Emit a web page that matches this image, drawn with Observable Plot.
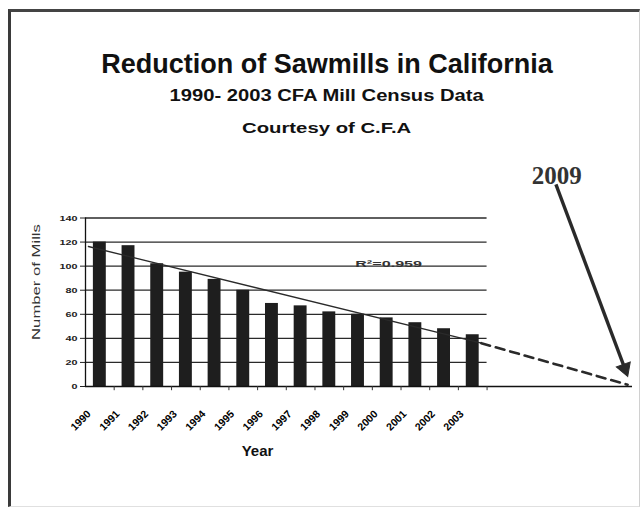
<!DOCTYPE html>
<html>
<head>
<meta charset="utf-8">
<script src="https://cdn.jsdelivr.net/npm/d3@7"></script>
<script src="https://cdn.jsdelivr.net/npm/@observablehq/plot@0.6"></script>
<style>
  html, body { margin: 0; padding: 0; background: #fff; overflow: hidden; }
  #page { position: relative; width: 642px; height: 508px; font-family: "Liberation Sans", Arial, sans-serif; }
  #frame { position: absolute; left: 8px; top: 9px; width: 628px; height: 494px;
           border-left: 3px solid #3a3a3a; border-top: 3px solid #444;
           border-right: 1px solid #d0d0d0; border-bottom: 1px solid #e0e0e0; }
  .line { position: absolute; left: 0; width: 654px; text-align: center; font-weight: bold; color: #111; white-space: nowrap; }
  .line span { display: inline-block; transform-origin: 50% 50%; }
  #ylabel { position: absolute; left: 36px; top: 282px; white-space: nowrap; font-size: 11.5px; color: #333;
            transform: translate(-50%, -50%) rotate(-90deg) scaleX(1.45); }
  #chart { position: absolute; left: 0; top: 150px; }
</style>
</head>
<body>
<div id="page">
  <div id="frame"></div>
  <div class="line" id="title" style="font-size:27px; line-height:27px; top:51px;"><span>Reduction of Sawmills in California</span></div>
  <div class="line" id="sub" style="font-size:16px; line-height:16px; top:88px;"><span style="transform:scaleX(1.26)">1990- 2003 CFA Mill Census Data</span></div>
  <div class="line" id="court" style="font-size:15.5px; line-height:15.5px; top:120px;"><span style="transform:scaleX(1.31)">Courtesy of C.F.A</span></div>
  <div id="ylabel">Number of Mills</div>
  <div class="line" id="xlabel" style="font-size:15px; line-height:15px; top:443px; width:515px;"><span>Year</span></div>
  <div id="chart"></div>
</div>
<script>
// ---- data ----
const years = [1990, 1991, 1992, 1993, 1994, 1995, 1996, 1997, 1998, 1999, 2000, 2001, 2002, 2003];
const mills = [120, 117, 102, 95, 89, 80, 69, 67, 62, 60, 57, 53, 48, 43];
const yTicks = [0, 20, 40, 60, 80, 100, 120, 140];
const yearLabels = years.map(String);
const r2Label = "R\u00B2=0.959";
const r2Year = 1998.9;           // where the R² note sits
const r2Value = 100;
const forecastEndYear = 2008.4;  // dashed projection reaches zero
const arrowYears = [2005.9, 2008.3];
const arrowMills = [168, 15];
const noteLabel = "2009";
const noteYear = 2005.93;
const noteValue = 168;

const data = years.map((y, i) => ({year: y, mills: mills[i], label: yearLabels[i]}));

// least-squares trend of the census counts
const xm = d3.mean(years), ym = d3.mean(mills);
const slope = d3.sum(years, (x, i) => (x - xm) * (mills[i] - ym)) / d3.sum(years, x => (x - xm) ** 2);
const fit = x => ym + slope * (x - xm);
const trendYears = [1989.6, 2003.3];
const trend = trendYears.map(x => ({year: x, mills: fit(x)}));
const forecast = [{year: 2003.3, mills: fit(2003.3)}, {year: forecastEndYear, mills: 1.5}];
const arrow = [{x1: arrowYears[0], y1: arrowMills[0], x2: arrowYears[1], y2: arrowMills[1]}];

const chart = Plot.plot({
  width: 642,
  height: 320,
  marginTop: 67.5,
  marginBottom: 84,
  marginLeft: 85,
  marginRight: 10,
  style: {fontFamily: "Liberation Sans, Arial, sans-serif", fontSize: "8px", fontWeight: "bold", background: "transparent", color: "#222", overflow: "visible"},
  x: {domain: [1989.5, 2008.57], axis: null},
  y: {domain: [0, 140], ticks: yTicks, tickSize: 5, tickPadding: 3, label: null},
  marks: [
    Plot.ruleY(yTicks.filter(v => v > 0), {x1: 1989.5, x2: 2003.5, stroke: "#2a2a2a", strokeWidth: 1.3}),
    Plot.rectY(data, {x1: d => d.year - 0.225, x2: d => d.year + 0.225, y: "mills", fill: "#1e1e1e"}),
    Plot.ruleY([0], {x1: 1989.5, x2: 2008.57, stroke: "#111", strokeWidth: 1.6}),
    Plot.ruleX([1989.5], {y1: 0, y2: 140, stroke: "#111", strokeWidth: 1.3}),
    Plot.ruleX(d3.range(1990.5, 2004, 1), {y1: 0, y2: -3.5, stroke: "#333", strokeWidth: 1}),
    Plot.line(trend, {x: "year", y: "mills", stroke: "#2a2a2a", strokeWidth: 1.3}),
    Plot.line(forecast, {x: "year", y: "mills", stroke: "#2a2a2a", strokeWidth: 2.6, strokeDasharray: "9,6"}),
    Plot.link(arrow, {x1: "x1", y1: "y1", x2: "x2", y2: "y2", stroke: "#2a2a2a", strokeWidth: 3.4}),
    Plot.dot([arrow[0]], {x: "x2", y: "y2", symbol: "triangle", r: 5.5, rotate: 160, fill: "#2a2a2a", stroke: "#2a2a2a", strokeWidth: 1}),
    Plot.text(data, {x: "year", y: 0, text: "label", rotate: -45, dx: -19, dy: 34, fontSize: 10.5, fill: "#000"}),
    Plot.text([r2Label], {x: r2Year, y: r2Value, text: d => d, textAnchor: "start", lineAnchor: "bottom", dy: 1, fontSize: 9, fill: "#333"}),
    Plot.text([noteLabel], {x: noteYear, y: noteValue, text: d => d, lineAnchor: "bottom", fontSize: 25, fontWeight: "bold", fontFamily: "Liberation Serif, Times New Roman, serif", fill: "#333"})
  ]
});
document.getElementById("chart").appendChild(chart);

// widen small labels the way the source image renders them
const stretch = (el, len) => { el.setAttribute("textLength", len); el.setAttribute("lengthAdjust", "spacingAndGlyphs"); };
d3.select(chart).selectAll("text").each(function() {
  const t = this.textContent;
  if (t === r2Label) stretch(this, 67);
  else if (yTicks.map(String).includes(t)) stretch(this, this.getComputedTextLength() * 1.35);
});
</script>
</body>
</html>
